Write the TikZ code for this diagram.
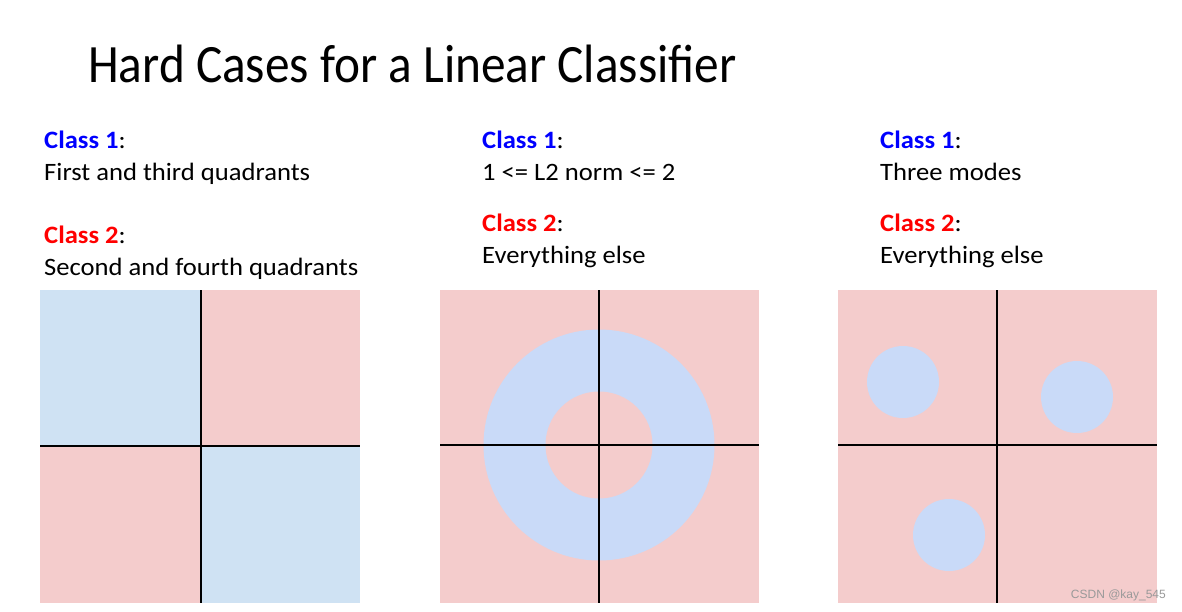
\documentclass[tikz,border=0pt]{standalone}
\usepackage{fontspec}
\setmainfont{Carlito}
\newfontfamily\markfont{Liberation Sans}

\definecolor{classpink}{RGB}{244,204,204}
\definecolor{paleblue}{RGB}{207,226,243}
\definecolor{ringblue}{RGB}{201,218,248}

% body text a bit wider than Carlito sets it
\newcommand{\widetxt}[1]{\scalebox{1.064}[1]{#1}}

\tikzset{
  txt/.style={anchor=base west, inner sep=0pt, font=\fontsize{25}{29}\selectfont},
  axis/.style={line width=1.5pt, color=black},
}

\begin{document}
\begin{tikzpicture}[x=1pt,y=-1pt]
  \useasboundingbox (0,0) rectangle (1182,611);

  % title
  \node[anchor=base west, inner sep=0pt, font=\fontsize{54}{60}\selectfont] (title) at (88,82) {\scalebox{0.913}[1]{Hard Cases for a Linear Classifier}};

  % left panel: quadrants
  \node[txt] (c1a) at (44,148) {\widetxt{\textbf{\color{blue}Class 1}:}};
  \node[txt] (d1a) at (44,180) {\widetxt{First and third quadrants}};
  \node[txt] (c2a) at (44,243) {\widetxt{\textbf{\color{red}Class 2}:}};
  \node[txt] (d2a) at (44,275) {\widetxt{Second and fourth quadrants}};
  \fill[paleblue] (40,290) rectangle (201,446);
  \fill[classpink] (201,290) rectangle (360,446);
  \fill[classpink] (40,446) rectangle (201,603);
  \fill[paleblue] (201,446) rectangle (360,603);
  \draw[axis] (201,290) -- (201,603);
  \draw[axis] (40,446) -- (360,446);

  % middle panel: ring
  \node[txt] (c1b) at (482,148) {\widetxt{\textbf{\color{blue}Class 1}:}};
  \node[txt] (d1b) at (482,180) {\widetxt{1 <= L2 norm <= 2}};
  \node[txt] (c2b) at (482,231) {\widetxt{\textbf{\color{red}Class 2}:}};
  \node[txt] (d2b) at (482,263) {\widetxt{Everything else}};
  \fill[classpink] (440,290) rectangle (759,603);
  \fill[ringblue] (599,445) circle [radius=115.5pt];
  \fill[classpink] (599,445) circle [radius=53.5pt];
  \draw[axis] (599,290) -- (599,603);
  \draw[axis] (440,445) -- (759,445);

  % right panel: three blobs
  \node[txt] (c1c) at (880,148) {\widetxt{\textbf{\color{blue}Class 1}:}};
  \node[txt] (d1c) at (880,180) {\widetxt{Three modes}};
  \node[txt] (c2c) at (880,231) {\widetxt{\textbf{\color{red}Class 2}:}};
  \node[txt] (d2c) at (880,263) {\widetxt{Everything else}};
  \fill[classpink] (838,290) rectangle (1157,603);
  \fill[ringblue] (903,382) circle [radius=36pt];
  \fill[ringblue] (1077,397) circle [radius=36pt];
  \fill[ringblue] (949,535) circle [radius=36pt];
  \draw[axis] (997,290) -- (997,603);
  \draw[axis] (838,445) -- (1157,445);

  \node[anchor=base east, inner sep=0pt, font=\markfont\fontsize{12}{14}\selectfont, color=black!40] (mark) at (1166,598) {CSDN @kay\_545};
\end{tikzpicture}
\end{document}
